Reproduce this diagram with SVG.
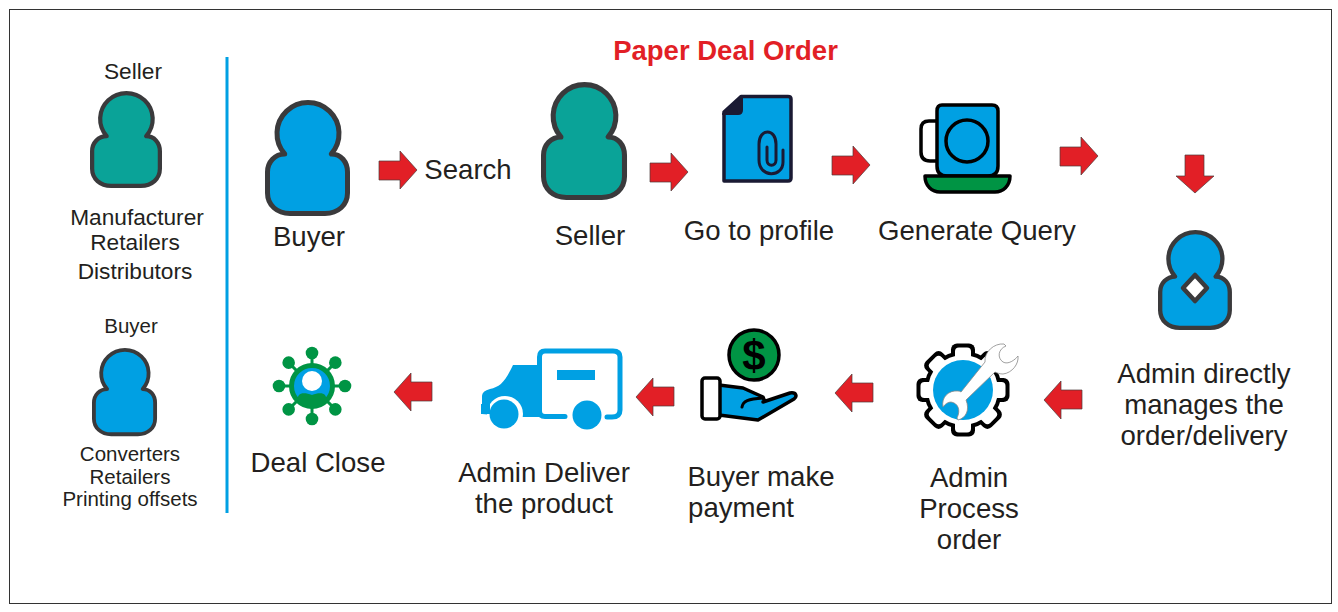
<svg xmlns="http://www.w3.org/2000/svg" width="1338" height="612" viewBox="0 0 1338 612">
<style>
text{font-family:"Liberation Sans",Arial,sans-serif;fill:#231f20;text-anchor:middle}
.l{font-size:27.6px}.m{font-size:22.7px}.s{font-size:20.5px}
.title{font-size:27.5px;font-weight:bold;fill:#e21f26}
.arrow{fill:#e21f26;stroke:#4a3a3a;stroke-width:.7}
.p{stroke:#3a3a3c;stroke-width:5;stroke-linejoin:round}
.blue{fill:#00a0e3}.teal{fill:#0aa398}.green{fill:#009444}
.k{stroke:#000;stroke-width:3.500;stroke-linejoin:round;stroke-linecap:round}
</style>
<defs>
<path id="person" d="M19.700,54A31,31 0 1 1 66.300,54C76,54 82.500,62 82.500,72V93C82.500,105 73,113.500 60,113.500H25C12,113.500 2.500,105 2.500,93V72C2.500,62 10,54 19.700,54Z"/>
<path id="arr" class="arrow" d="M0,10H21V0L38,19L21,38V29H0Z"/>
<g id="tooth"><rect x="-12" y="-46.500" width="24" height="93" rx="6"/><rect x="-12" y="-46.500" width="24" height="93" rx="6" transform="rotate(45)"/><rect x="-12" y="-46.500" width="24" height="93" rx="6" transform="rotate(90)"/><rect x="-12" y="-46.500" width="24" height="93" rx="6" transform="rotate(135)"/><circle r="39"/></g>
<g id="tooth2"><rect x="-8" y="-42.500" width="16" height="85" rx="4"/><rect x="-8" y="-42.500" width="16" height="85" rx="4" transform="rotate(45)"/><rect x="-8" y="-42.500" width="16" height="85" rx="4" transform="rotate(90)"/><rect x="-8" y="-42.500" width="16" height="85" rx="4" transform="rotate(135)"/><circle r="35"/></g>
<g id="spoke"><path d="M0,-20V-30" stroke="#009444" stroke-width="3"/><circle cy="-33" r="6.300" class="green"/></g>
</defs>
<rect id="frame" x="9.500" y="9.500" width="1322" height="594" fill="#fff" stroke="#333" stroke-width="1"/>
<rect id="divider" x="225.500" y="57" width="3" height="456" class="blue"/>
<text class="title" x="725.500" y="60">Paper Deal Order</text>

<g id="legend-seller">
<text class="m" x="133" y="79">Seller</text>
<use href="#person" class="p teal" transform="translate(90 91) scale(.847 .836)"/>
<text class="m" x="137" y="225">Manufacturer</text>
<text class="m" x="135" y="250">Retailers</text>
<text class="m" x="135" y="279">Distributors</text>
</g>
<g id="legend-buyer">
<text class="s" x="131" y="333">Buyer</text>
<use href="#person" class="p blue" transform="translate(92 348) scale(.765 .76)"/>
<text class="s" x="130" y="461">Converters</text>
<text class="s" x="130" y="484">Retailers</text>
<text class="s" x="130" y="506">Printing offsets</text>
</g>
<g id="buyer">
<use href="#person" class="p blue" transform="translate(265 100)"/>
<text class="l" x="309" y="246">Buyer</text>
</g>
<g id="search"><text class="l" x="468" y="179">Search</text></g>
<g id="seller">
<use href="#person" class="p teal" transform="translate(541 82) scale(1.012 1.017)"/>
<text class="l" x="590" y="245">Seller</text>
</g>
<g id="profile">
<path d="M741,96.500H788Q791,96.500 791,99V178Q791,181 788,181H724V112Z" class="blue" stroke="#1a1a33" stroke-width="3.500" stroke-linejoin="round"/>
<path d="M742,96L723,114H738Q742,114 742,110Z" fill="#1a1a33" stroke="#1a1a33" stroke-width="2" stroke-linejoin="round"/>
<path d="M783,150V162C783,178 759,178 759,160V144C759,128 776,128 776,144V160C776,167 767,167 767,160V147" fill="none" stroke="#1a1a33" stroke-width="3" stroke-linecap="round"/>
<text class="l" x="759" y="240">Go to profile</text>
</g>
<g id="query">
<path d="M937,121H929Q921,121 921,129V152Q921,161 930,161H937" fill="#fff" class="k"/>
<path d="M942,105H992Q998,105 998,111L998,166Q998,176 988,176H947Q937,176 937,166V111Q937,105 942,105Z" class="blue k"/>
<circle cx="967" cy="141" r="21" class="blue k"/>
<path d="M925,176H1010C1010,186 1003,192 995,192H940C932,192 925,186 925,176Z" class="green k"/>
<text class="l" x="977" y="240">Generate Query</text>
</g>
<g id="admin">
<use href="#person" class="p blue" transform="translate(1158 230) scale(.87 .862)"/>
<path d="M1195,275L1207,288L1195,301L1183,288Z" fill="#fff" stroke="#3a3a3c" stroke-width="4.500" stroke-linejoin="round"/>
<text class="l" x="1204" y="383">Admin directly</text>
<text class="l" x="1204" y="414">manages the</text>
<text class="l" x="1204" y="445">order/delivery</text>
</g>
<g id="process">
<use href="#tooth" transform="translate(963 390)"/>
<use href="#tooth2" transform="translate(963 390)" fill="#fff"/>
<circle cx="963" cy="390" r="30" class="blue"/>
<path d="M985,362C984,352 994,343 1004,344L1006,346C998,349 997,358 1003,362C1008,365 1015,360 1018,356C1019,364 1012,373 1003,374C1000,374 997,373 995,372L966,400C970,410 966,418 958,420L957,418C961,410 958,403 951,402C948,402 945,404 943,407C941,397 949,390 958,391Q960,391 961,392Z" fill="#fff" stroke="#888" stroke-width=".8"/>
<text class="l" x="969" y="487">Admin</text>
<text class="l" x="969" y="518">Process</text>
<text class="l" x="969" y="549">order</text>
</g>
<g id="payment">
<circle cx="754" cy="355" r="25" class="green k"/>
<text x="754" y="370" font-size="42" font-weight="bold" style="fill:#000">$</text>
<path d="M719,385L743,388L763,397C765,401 764,402 763,402L790,393C797,392 797,397 794,399L758,420L719,415Z" class="blue k"/>
<path d="M742,407C743,401 748,399 763,398" fill="none" stroke="#000" stroke-width="3" stroke-linecap="round"/>
<rect x="702" y="378" width="18" height="41" rx="3" fill="#fff" class="k"/>
<text class="l" x="761" y="486">Buyer make</text>
<text class="l" x="741" y="517">payment</text>
</g>
<g id="deliver">
<path d="M565,416.500H545Q539.500,416.500 539.500,411V357Q539.500,351 545,351H613Q620,351 620,357V410Q620,417 612,417H607" fill="none" stroke="#00a0e3" stroke-width="5" stroke-linecap="round"/>
<rect x="557" y="370" width="38" height="10" class="blue"/>
<path d="M482,414V396Q482,391 490,389C500,387 505,382 513,365H540V417H515Z" class="blue"/>
<circle cx="505" cy="414" r="18" fill="#fff"/>
<path d="M481,414H490V404H481Z" class="blue"/>
<circle cx="504" cy="414" r="14.500" class="blue"/>
<circle cx="587" cy="415" r="14.500" class="blue"/>
<text class="l" x="544" y="482">Admin Deliver</text>
<text class="l" x="544" y="513">the product</text>
</g>
<g id="close">
<use href="#spoke" transform="translate(312 386)"/><use href="#spoke" transform="translate(312 386) rotate(45)"/><use href="#spoke" transform="translate(312 386) rotate(90)"/><use href="#spoke" transform="translate(312 386) rotate(135)"/><use href="#spoke" transform="translate(312 386) rotate(180)"/><use href="#spoke" transform="translate(312 386) rotate(225)"/><use href="#spoke" transform="translate(312 386) rotate(270)"/><use href="#spoke" transform="translate(312 386) rotate(315)"/>
<circle cx="312" cy="386" r="20.500" class="blue" stroke="#009444" stroke-width="5"/>
<path d="M298,402C296,392 304,392 312,395C320,392 328,392 326,402C318,408 306,408 298,402Z" class="green"/>
<circle cx="312" cy="381" r="10" fill="#fff"/>
<text class="l" x="318" y="472">Deal Close</text>
</g>
<g id="connectors">
<use href="#arr" x="379" y="151"/>
<use href="#arr" x="650" y="153"/>
<use href="#arr" x="832" y="146"/>
<use href="#arr" x="1060" y="137"/>
<use href="#arr" transform="translate(1214 155) rotate(90)"/>
<use href="#arr" transform="translate(1082 419) rotate(180)"/>
<use href="#arr" transform="translate(873 412) rotate(180)"/>
<use href="#arr" transform="translate(674 416) rotate(180)"/>
<use href="#arr" transform="translate(432 411) rotate(180)"/>
</g>
</svg>
